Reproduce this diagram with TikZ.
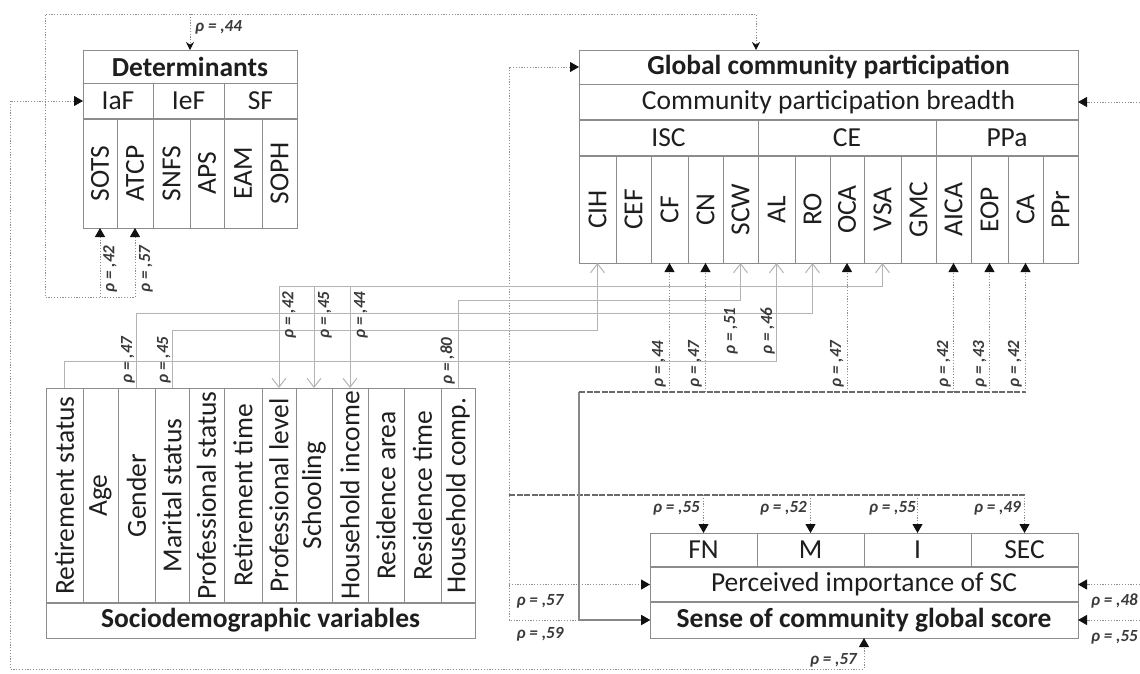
\documentclass[tikz,border=0pt]{standalone}
\usepackage{fontspec}
\usepackage{graphicx}
\setmainfont{Carlito}
\usetikzlibrary{arrows.meta}
\definecolor{boxc}{HTML}{8C8C8C}
\definecolor{dotc}{HTML}{8E8E8E}
\definecolor{sdc}{HTML}{B4B4B4}
\definecolor{heavyc}{HTML}{6A6A6A}
\definecolor{inkc}{HTML}{1E1E1E}
\definecolor{rhoc}{HTML}{3A3A3A}
\definecolor{tipc}{HTML}{111111}
\begin{document}
\begin{tikzpicture}[x=1pt,y=-1pt,
  cell/.style 2 args={draw=boxc, line width=1pt, minimum width=#1, minimum height=#2,
    anchor=north west, inner sep=0pt, outer sep=0pt, text=inkc,
    font=\fontsize{27.5}{30}\selectfont},
  head/.style={font=\fontsize{27.5}{30}\selectfont\bfseries},
  sep/.style={draw=boxc, line width=2.6pt},
  corr/.style={draw=dotc, line width=1pt, dash pattern=on 1.2pt off 1.6pt},
  sdl/.style={draw=sdc, line width=1pt},
  heavy/.style={draw=heavyc, line width=1.8pt, dash pattern=on 6pt off 1.5pt},
  soft/.style={draw=heavyc!80, line width=1.4pt},
  tri/.tip={Triangle[length=9pt,width=10pt,color=tipc]},
  vee/.tip={Straight Barb[length=9pt,width=14pt,line width=1pt]},
  drop/.tip={Stealth[length=8pt,width=8pt,color=tipc]},
  rho/.style={font=\fontsize{17}{18}\selectfont\bfseries\itshape, text=rhoc, inner sep=0pt},
  vrho/.style={rho, rotate=90}
]
\useasboundingbox (0,0) rectangle (1140,673);

% ---------- Determinants ----------
\node[cell={214}{33}, head] (dettitle) at (83,50) {Determinants};
\node[cell={70}{36}] (iaf) at (83,83) {IaF};
\node[cell={71}{36}] (ief) at (153,83) {IeF};
\node[cell={73}{36}] (sf) at (224,83) {SF};
\foreach \n/\a/\b/\t in {sots/83/117/SOTS, atcp/117/153/ATCP, snfs/153/190/SNFS,
    aps/190/224/APS, eam/224/262/EAM, soph/262/297/SOPH}
  \node[cell={\b-\a}{109}] (\n) at (\a,119) {\rotatebox{90}{\t}};
\draw[sep] (dettitle.south west |- sots.north) -- (soph.north east);

% ---------- Global community participation ----------
\node[cell={499}{34}, head] (gcptitle) at (579,50) {Global community participation};
\node[cell={499}{36}] (cpb) at (579,84) {Community participation breadth};
\node[cell={179}{36}] (isc) at (579,120) {ISC};
\node[cell={178}{36}] (ce) at (758,120) {CE};
\node[cell={142}{36}] (ppa) at (936,120) {PPa};
\foreach \n/\a/\b/\t in {cih/579/616/CIH, cef/616/651/CEF, cf/651/688/CF, cn/688/723/CN,
    scw/723/758/SCW, al/758/795/AL, ro/795/830/RO, oca/830/864/OCA, vsa/864/901/VSA,
    gmc/901/936/GMC, aica/936/971/AICA, eop/971/1008/EOP, ca/1008/1043/CA, ppr/1043/1078/PPr}
  \node[cell={\b-\a}{107}] (\n) at (\a,156) {\rotatebox{90}{\t}};
\draw[sep] (cpb.south west) -- (cpb.south east);
\draw[sep] (cih.north west) -- (ppr.north east);

% ---------- Sociodemographic variables ----------
\foreach \n/\a/\b/\t in {sd1/46/83/Retirement status, sd2/83/118/Age, sd3/118/155/Gender,
    sd4/155/189/Marital status, sd5/189/224/Professional status, sd6/224/262/Retirement time,
    sd7/262/296/Professional level, sd8/296/332/Schooling, sd9/332/368/Household income,
    sd10/368/404/Residence area, sd11/404/441/Residence time, sd12/441/475/Household comp.}
  \node[cell={\b-\a}{215}] (\n) at (\a,388) {\rotatebox{90}{\t}};
\node[cell={429}{35}, head] (sdtitle) at (46,603) {Sociodemographic variables};
\draw[sep] (sdtitle.north west) -- (sdtitle.north east);

% ---------- Sense of community ----------
\node[cell={107}{34}] (fn) at (650,533) {FN};
\node[cell={107}{34}] (m) at (757,533) {M};
\node[cell={107}{34}] (i) at (864,533) {I};
\node[cell={107}{34}] (sec) at (971,533) {SEC};
\node[cell={428}{35}] (piv) at (650,567) {Perceived importance of SC};
\node[cell={428}{36}, head] (scgs) at (650,602) {Sense of community global score};
\draw[sep] (piv.north west) -- (piv.north east);
\draw[sep] (scgs.north west) -- (scgs.north east);

% ---------- bend points ----------
\coordinate (tl) at (45,14);
\coordinate (bl) at (45,297);
\coordinate (gdrop) at (756,14);
\coordinate (ll) at (10,669);
\coordinate (gl) at (509,620);
\coordinate (hb) at (509,495);
\coordinate (vb) at (579,392);
\coordinate (h1) at (0,361);
\coordinate (h2) at (0,313);
\coordinate (h3) at (0,330);
\coordinate (h4) at (0,300);
\coordinate (h5) at (0,286);
\coordinate (rx) at (1140,0);

% ---------- correlations of the determinants ----------
\draw[corr, {tri}-{drop}] (atcp.south) |- (bl) |- (gdrop) -- (gcptitle.north -| gdrop);
\draw[corr, {tri}-] (sots.south) -- (sots.south |- bl);
\draw[corr, -{drop}] (dettitle.north |- tl) -- (dettitle.north);
\draw[corr, {tri}-{tri}] (iaf.west) -| (ll) -| (scgs.south);
\node[rho, anchor=west] (r1) at (195,27) {ρ = ,44};
\node[vrho, anchor=north] (r2) at (103,269) {ρ = ,42};
\node[vrho, anchor=north] (r3) at (139,269) {ρ = ,57};
\node[rho, anchor=east] (r4) at (857,660) {ρ = ,57};

% ---------- global participation with sense of community ----------
\draw[corr, {tri}-{tri}] (gcptitle.west) -| (gl) -- (scgs.west);
\draw[corr, -{tri}] (gl |- piv.west) -- (piv.west);
\node[rho] (r5) at (540,601) {ρ = ,57};
\node[rho] (r6) at (540,634) {ρ = ,59};
\draw[heavy] (hb) -- (sec.north |- hb);
\foreach \n in {fn,m,i,sec}
  \draw[corr, -{tri}] (\n.north |- hb) -- (\n.north);
\node[rho, anchor=east] (r7) at (700,508) {ρ = ,55};
\node[rho, anchor=east] (r8) at (807,508) {ρ = ,52};
\node[rho, anchor=east] (r9) at (916,508) {ρ = ,55};
\node[rho, anchor=east] (r10) at (1021,508) {ρ = ,49};

% ---------- sense of community with participation activities ----------
\draw[soft, -{tri}] (vb) |- (scgs.west);
\draw[heavy] (vb) -- (ca.south |- vb);
\foreach \n in {cf,cn,oca,aica,eop,ca}
  \draw[corr, -{tri}] (\n.south |- vb) -- (\n.south);
\node[vrho, anchor=south] (r11) at (666,364) {ρ = ,44};
\node[vrho, anchor=south] (r12) at (702,364) {ρ = ,47};
\node[vrho, anchor=south] (r13) at (844,364) {ρ = ,47};
\node[vrho, anchor=south] (r14) at (951,364) {ρ = ,42};
\node[vrho, anchor=south] (r15) at (987,364) {ρ = ,43};
\node[vrho, anchor=south] (r16) at (1022,364) {ρ = ,42};

% ---------- sociodemographic links ----------
\draw[sdl, -{vee}] (sd1.north) -- (sd1.north |- h1) -| (al.south);
\draw[sdl, -{vee}] (sd3.north) -- (sd3.north |- h2) -| (ro.south);
\draw[sdl, -{vee}] (sd4.north) -- (sd4.north |- h3) -| (cih.south);
\draw[sdl, -{vee}] (sd12.north) -- (sd12.north |- h4) -| (scw.south);
\draw[sdl, -{vee}] (sd7.north |- h5) -| (vsa.south);
\foreach \n in {sd7,sd8,sd9}
  \draw[sdl, -{vee}] (\n.north |- h5) -- (\n.north);
\node[vrho, anchor=south] (r17) at (135,360) {ρ = ,47};
\node[vrho, anchor=south] (r18) at (171,360) {ρ = ,45};
\node[vrho, anchor=north] (r19) at (282,315) {ρ = ,42};
\node[vrho, anchor=north] (r20) at (318,315) {ρ = ,45};
\node[vrho, anchor=north] (r21) at (354,315) {ρ = ,44};
\node[vrho, anchor=south] (r22) at (455,361) {ρ = ,80};
\node[vrho, anchor=south] (r23) at (738,331) {ρ = ,51};
\node[vrho, anchor=south] (r24) at (775,331) {ρ = ,46};

% ---------- links entering from the right ----------
\draw[corr, -{tri}] (rx |- cpb.east) -- (cpb.east);
\draw[corr, -{tri}] (rx |- piv.east) -- (piv.east);
\draw[corr, -{tri}] (rx |- scgs.east) -- (scgs.east);
\node[rho, anchor=east] (r25) at (1138,601) {ρ = ,48};
\node[rho, anchor=east] (r26) at (1138,637) {ρ = ,55};
\end{tikzpicture}
\end{document}
